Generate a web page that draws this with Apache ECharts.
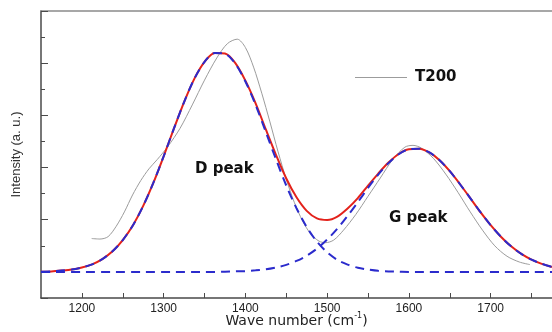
<!DOCTYPE html>
<html>
<head>
<meta charset="utf-8">
<script src="https://cdn.jsdelivr.net/npm/echarts@6/dist/echarts.min.js"></script>
<style>
  html, body { margin: 0; padding: 0; background: #fff; }
  #chart { width: 552px; height: 332px; }
</style>
</head>
<body>
<div id="chart"></div>
<script>
// wave numbers for the fitted curves (cm-1), every 12.5
const waveNumber = [1150, 1162.5, 1175, 1187.5, 1200, 1212.5, 1225, 1237.5, 1250, 1262.5,
  1275, 1287.5, 1300, 1312.5, 1325, 1337.5, 1350, 1362.5, 1375, 1387.5,
  1400, 1412.5, 1425, 1437.5, 1450, 1462.5, 1475, 1487.5, 1500, 1512.5,
  1525, 1537.5, 1550, 1562.5, 1575, 1587.5, 1600, 1612.5, 1625, 1637.5,
  1650, 1662.5, 1675, 1687.5, 1700, 1712.5, 1725, 1737.5, 1750, 1762.5, 1775];
// total fit (red)
const fitTotal = [1.01, 1.02, 1.05, 1.09, 1.17, 1.29, 1.49, 1.79, 2.22, 2.79,
  3.53, 4.42, 5.43, 6.49, 7.51, 8.40, 9.05, 9.39, 9.37, 9.01,
  8.33, 7.46, 6.46, 5.48, 4.58, 3.86, 3.34, 3.05, 2.99, 3.12,
  3.43, 3.83, 4.31, 4.77, 5.19, 5.52, 5.70, 5.72, 5.58, 5.28,
  4.86, 4.36, 3.83, 3.29, 2.79, 2.35, 1.98, 1.69, 1.47, 1.31, 1.19];
// D band component (dashed)
const peakD = [1.01, 1.02, 1.05, 1.09, 1.17, 1.29, 1.49, 1.79, 2.22, 2.79,
  3.53, 4.42, 5.43, 6.49, 7.51, 8.40, 9.05, 9.39, 9.36, 8.99,
  8.30, 7.40, 6.36, 5.31, 4.31, 3.44, 2.72, 2.16, 1.75, 1.46,
  1.28, 1.16, 1.09, 1.04, 1.02, 1.01, 1.0, 1.0, 1.0, 1.0,
  1.0, 1.0, 1.0, 1.0, 1.0, 1.0, 1.0, 1.0, 1.0, 1.0, 1.0];
// G band component (dashed)
const peakG = [1.0, 1.0, 1.0, 1.0, 1.0, 1.0, 1.0, 1.0, 1.0, 1.0,
  1.0, 1.0, 1.0, 1.0, 1.0, 1.0, 1.0, 1.0, 1.01, 1.02,
  1.03, 1.06, 1.10, 1.17, 1.27, 1.42, 1.62, 1.89, 2.24, 2.66,
  3.15, 3.67, 4.22, 4.73, 5.17, 5.51, 5.70, 5.72, 5.58, 5.28,
  4.86, 4.36, 3.83, 3.29, 2.79, 2.35, 1.98, 1.69, 1.47, 1.31, 1.19];
// measured spectrum T200
const t200Wave = [1212, 1222, 1232, 1242, 1252, 1262, 1272, 1282, 1292, 1305,
  1320, 1335, 1350, 1365, 1378, 1390, 1400, 1410, 1420, 1430,
  1440, 1450, 1460, 1470, 1480, 1490, 1498, 1508, 1520, 1535,
  1550, 1565, 1580, 1595, 1605, 1615, 1630, 1645, 1660, 1675,
  1690, 1705, 1720, 1735, 1748];
const t200Intensity = [2.28, 2.26, 2.35, 2.75, 3.3, 3.95, 4.5, 4.95, 5.3, 5.8,
  6.5, 7.4, 8.35, 9.2, 9.75, 9.92, 9.6, 8.85, 7.85, 6.75,
  5.6, 4.55, 3.65, 2.95, 2.45, 2.18, 2.12, 2.22, 2.6, 3.2,
  3.9, 4.6, 5.3, 5.78, 5.85, 5.75, 5.35, 4.75, 4.05, 3.3,
  2.6, 2.0, 1.6, 1.38, 1.28];

const pairs = (xs, ys) => xs.map((x, i) => [x, ys[i]]);

const chart = echarts.init(document.getElementById('chart'));
const axisColor = '#4a4a4a';
const blue = '#2b2bcc';
const gray = '#9c9c9c';

const option = {
  backgroundColor: '#fff',
  animation: false,
  grid: { left: 41, right: 0, top: 11, bottom: 34, outerBoundsMode: 'none' },
  legend: {
    data: [{ name: 'T200', icon: 'rect' }],
    left: 355,
    top: 70,
    padding: 0,
    itemWidth: 52,
    itemHeight: 1.2,
    itemGap: 8,
    itemStyle: { color: gray },
    textStyle: { fontFamily: 'DejaVu Sans', fontWeight: 'bold', fontSize: 15, color: '#111', padding: [0, 0, 0, 3] }
  },
  xAxis: [
    {
      type: 'value',
      min: 1150,
      max: 1775,
      interval: 50,
      axisLine: { lineStyle: { color: axisColor, width: 1.5 } },
      axisTick: { inside: true, length: 5, lineStyle: { color: axisColor } },
      splitLine: { show: false },
      axisLabel: {
        margin: 5,
        color: '#222',
        fontFamily: 'Liberation Sans',
        fontSize: 12,
        showMinLabel: false,
        formatter: v => (v % 100 === 0 ? String(v) : '')
      },
      name: '{a|Wave number (cm}{s|-1}{a|)}',
      nameLocation: 'middle',
      nameGap: 14,
      nameMoveOverlap: false,
      nameTextStyle: {
        rich: {
          a: { fontFamily: 'DejaVu Sans', fontSize: 14, color: '#222', lineHeight: 18 },
          s: { fontFamily: 'DejaVu Sans', fontSize: 8, color: '#222', verticalAlign: 'top', lineHeight: 10 }
        }
      }
    },
    {
      type: 'value',
      position: 'top',
      min: 1150,
      max: 1775,
      axisLine: { lineStyle: { color: '#8a8a8a', width: 1.5 } },
      axisTick: { show: false },
      axisLabel: { show: false },
      splitLine: { show: false }
    }
  ],
  yAxis: [
    {
      type: 'value',
      min: 0,
      max: 11,
      interval: 1,
      axisLine: { show: true, lineStyle: { color: axisColor, width: 1.5 } },
      axisTick: { inside: true, length: 4, lineStyle: { color: axisColor } },
      axisLabel: { show: false },
      splitLine: { show: false },
      name: 'Intensity (a. u.)',
      nameLocation: 'middle',
      nameGap: 18,
      nameMoveOverlap: false,
      nameTextStyle: { fontFamily: 'Liberation Sans', fontSize: 13, color: '#333' }
    },
    {
      // longer ticks every second step
      type: 'value',
      inverse: true,
      position: 'left',
      min: 0,
      max: 11,
      interval: 2,
      axisLine: { show: false },
      axisTick: { inside: true, length: 7, lineStyle: { color: axisColor } },
      axisLabel: { show: false },
      splitLine: { show: false }
    }
  ],
  graphic: [
    { type: 'text', left: 195, top: 162, style: { text: 'D peak', font: 'bold 15px "DejaVu Sans"', fill: '#111' } },
    { type: 'text', left: 389, top: 211, style: { text: 'G peak', font: 'bold 15px "DejaVu Sans"', fill: '#111' } }
  ],
  series: [
    {
      name: 'T200',
      type: 'line',
      data: pairs(t200Wave, t200Intensity),
      smooth: 0.3,
      symbol: 'none',
      lineStyle: { color: gray, width: 1 },
      itemStyle: { color: gray }
    },
    {
      name: 'Fit',
      type: 'line',
      data: pairs(waveNumber, fitTotal),
      smooth: 0.3,
      symbol: 'none',
      lineStyle: { color: '#e3221b', width: 2 }
    },
    {
      name: 'D band',
      type: 'line',
      data: pairs(waveNumber, peakD),
      smooth: 0.3,
      symbol: 'none',
      lineStyle: { color: blue, width: 2, type: [9, 6] }
    },
    {
      name: 'G band',
      type: 'line',
      data: pairs(waveNumber, peakG),
      smooth: 0.3,
      symbol: 'none',
      lineStyle: { color: blue, width: 2, type: [9, 6] }
    }
  ]
};

chart.setOption(option);
</script>
</body>
</html>
